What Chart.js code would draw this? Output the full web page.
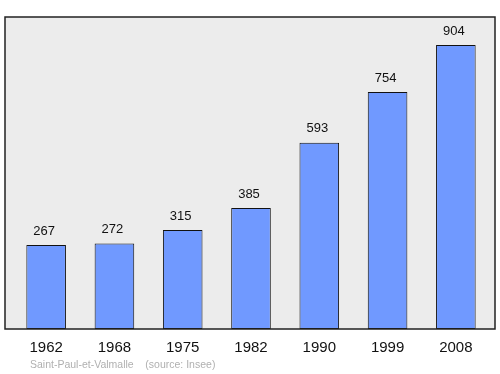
<!DOCTYPE html>
<html><head><meta charset="utf-8">
<script src="https://cdn.jsdelivr.net/npm/chart.js@4/dist/chart.umd.min.js"></script>
<style>html,body{margin:0;padding:0;background:#fff}#w{width:500px;height:374px}</style>
</head><body><div id="w"><canvas id="c" width="500" height="374"></canvas></div>
<script>
const years = ["1962","1968","1975","1982","1990","1999","2008"];
const population = [267,272,315,385,593,754,904];
const sourceText = "Saint-Paul-et-Valmalle    (source: Insee)";

const framePlugin = {
  id:'frame',
  beforeDraw(chart){
    const ctx = chart.ctx, a = chart.chartArea;
    ctx.save();
    ctx.fillStyle = '#ececec';
    ctx.fillRect(5, a.top, 490, a.bottom - a.top);
    ctx.restore();
  },
  afterDatasetsDraw(chart){
    const ctx = chart.ctx, a = chart.chartArea;
    ctx.save();
    ctx.strokeStyle = '#222';
    ctx.lineWidth = 1.5;
    ctx.strokeRect(5, a.top, 490, a.bottom - a.top);
    const meta = chart.getDatasetMeta(0);
    ctx.fillStyle = '#111';
    ctx.font = '13px "Liberation Sans", Arial, sans-serif';
    ctx.textAlign = 'center';
    ctx.textBaseline = 'middle';
    meta.data.forEach((bar,i)=>{
      ctx.fillText(String(population[i]), bar.x - 2, bar.y - 14);
    });
    ctx.fillStyle = '#b0b0b0';
    ctx.font = '10.5px "Liberation Sans", Arial, sans-serif';
    ctx.textAlign = 'left';
    ctx.fillText(sourceText, 30, 365);
    ctx.restore();
  }
};

new Chart(document.getElementById('c'), {
  type:'bar',
  data:{labels:years, datasets:[{data:population, backgroundColor:'#7099ff', borderColor:'#111', borderWidth:1, borderSkipped:false, categoryPercentage:1, barPercentage:0.58}]},
  options:{
    responsive:false, animation:false,
    layout:{padding:{top:17,left:12,right:10,bottom:15}},
    plugins:{legend:{display:false}, tooltip:{enabled:false}},
    scales:{
      x:{grid:{display:false, drawTicks:false}, border:{display:false},
         ticks:{color:'#111', font:{size:15, family:'"Liberation Sans", Arial, sans-serif'}, padding:10, maxRotation:0},
         afterFit(s){ s.height = 30; }},
      y:{display:false, min:0, max:993}
    }
  },
  plugins:[framePlugin]
});
</script>
</body></html>
